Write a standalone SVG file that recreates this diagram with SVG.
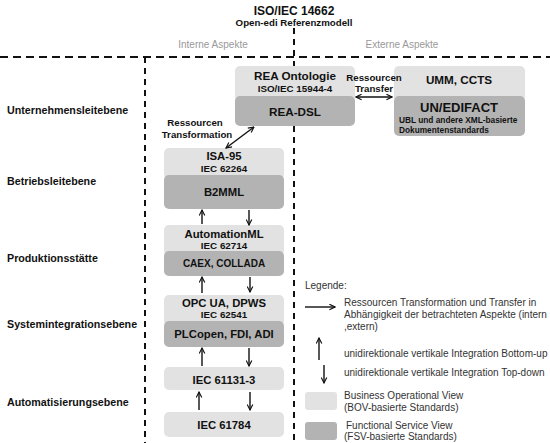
<svg xmlns="http://www.w3.org/2000/svg" width="550" height="443" viewBox="0 0 550 443">
<defs>
<marker id="ah" viewBox="0 0 10 10" refX="9" refY="5" markerWidth="7" markerHeight="7" markerUnits="userSpaceOnUse" orient="auto-start-reverse">
<path d="M1,1 L9,5 L1,9" fill="none" stroke="#111" stroke-width="1.6"/>
</marker>
</defs>
<style>
text{font-family:"Liberation Sans",Arial,sans-serif}
.b{font-weight:bold;fill:#111;text-anchor:middle}
.m{font-size:11.3px}
.s{font-size:9.8px}
.lv{font-weight:bold;fill:#111;font-size:10.7px}
.asp{font-size:10px;fill:#999;text-anchor:middle}
.lg{font-size:10px;fill:#333}
.light{fill:#e2e2e2}
.dark{fill:#b3b3b3}
.dh{stroke:#111;stroke-width:2;stroke-dasharray:8 5;fill:none}
.dv{stroke:#111;stroke-width:2;stroke-dasharray:6 5;fill:none}
.ar{stroke:#111;stroke-width:1.4;fill:none;marker-end:url(#ah)}
.da{stroke:#111;stroke-width:1.4;fill:none;marker-end:url(#ah);marker-start:url(#ah)}
</style>

<g id="header">
<text class="b" x="294" y="15" style="font-size:12px">ISO/IEC 14662</text>
<text class="b" x="294" y="25.5" style="font-size:9.7px">Open-edi Referenzmodell</text>
<text class="asp" x="213" y="48">Interne Aspekte</text>
<text class="asp" x="402" y="48">Externe Aspekte</text>
</g>

<g id="dividers">
<line class="dh" x1="0" y1="57" x2="550" y2="57"/>
<line class="dv" x1="145" y1="57" x2="145" y2="443"/>
<line class="dv" x1="294" y1="28" x2="294" y2="66"/>
<line class="dv" x1="294" y1="126" x2="294" y2="443"/>
</g>

<g id="levels">
<text class="lv" x="7" y="114">Unternehmensleitebene</text>
<text class="lv" x="7" y="185">Betriebsleitebene</text>
<text class="lv" x="7" y="262">Produktionsstätte</text>
<text class="lv" x="7" y="328">Systemintegrationsebene</text>
<text class="lv" x="7" y="406">Automatisierungsebene</text>
</g>

<g id="rea-ontologie">
<rect class="light" x="235" y="66" width="120" height="36" rx="5"/>
<text class="b" x="295" y="80" style="font-size:11.7px">REA Ontologie</text>
<text class="b s" x="295" y="91.5">ISO/IEC 15944-4</text>
</g>
<g id="rea-dsl">
<rect class="dark" x="235" y="96" width="120" height="30" rx="5"/>
<text class="b" x="295" y="116" style="font-size:11.7px">REA-DSL</text>
</g>
<g id="umm-ccts">
<rect class="light" x="394" y="66" width="131" height="36" rx="5"/>
<text class="b" x="459" y="84" style="font-size:11.7px">UMM, CCTS</text>
</g>
<g id="un-edifact">
<rect class="dark" x="394" y="96" width="131" height="40" rx="5"/>
<text class="b" x="459" y="112" style="font-size:13px">UN/EDIFACT</text>
<text class="b" x="399" y="122.5" style="font-size:8.3px;text-anchor:start">UBL und andere XML-basierte</text>
<text class="b" x="399" y="133" style="font-size:8.3px;text-anchor:start">Dokumentenstandards</text>
</g>

<g id="isa-95">
<rect class="light" x="164" y="148" width="120" height="32" rx="5"/>
<text class="b m" x="224" y="160">ISA-95</text>
<text class="b s" x="224" y="172">IEC 62264</text>
</g>
<g id="b2mml">
<rect class="dark" x="164" y="175" width="120" height="34" rx="5"/>
<text class="b m" x="224" y="196">B2MML</text>
</g>
<g id="automationml">
<rect class="light" x="164" y="225" width="120" height="31" rx="5"/>
<text class="b m" x="224" y="237.5">AutomationML</text>
<text class="b s" x="224" y="248.5">IEC 62714</text>
</g>
<g id="caex-collada">
<rect class="dark" x="164" y="251" width="120" height="25" rx="5"/>
<text class="b" x="224" y="267" style="font-size:10px">CAEX, COLLADA</text>
</g>
<g id="opc-ua">
<rect class="light" x="164" y="295" width="120" height="31" rx="5"/>
<text class="b m" x="224" y="307">OPC UA, DPWS</text>
<text class="b s" x="224" y="318">IEC 62541</text>
</g>
<g id="plcopen">
<rect class="dark" x="164" y="321" width="120" height="26" rx="5"/>
<text class="b m" x="224" y="338">PLCopen, FDI, ADI</text>
</g>
<g id="iec-61131">
<rect class="light" x="164" y="367" width="120" height="23" rx="5"/>
<text class="b m" x="224" y="384">IEC 61131-3</text>
</g>
<g id="iec-61784">
<rect class="light" x="164" y="412" width="120" height="25" rx="5"/>
<text class="b m" x="224" y="429">IEC 61784</text>
</g>

<g id="connector-labels">
<text class="b" x="374" y="80.5" style="font-size:9.7px">Ressourcen</text>
<text class="b" x="374" y="91.5" style="font-size:9.7px">Transfer</text>
<text class="b" x="195" y="125.5" style="font-size:9.7px">Ressourcen</text>
<text class="b" x="197" y="137.5" style="font-size:9.7px">Transformation</text>
</g>

<g id="connectors">
<line class="da" x1="356" y1="97" x2="392" y2="97"/>
<line class="da" x1="226" y1="148" x2="254" y2="127"/>
<line class="ar" x1="202" y1="224" x2="202" y2="210"/>
<line class="ar" x1="249" y1="210" x2="249" y2="225"/>
<line class="ar" x1="202" y1="293" x2="202" y2="277"/>
<line class="ar" x1="250" y1="277" x2="250" y2="292"/>
<line class="ar" x1="202" y1="366" x2="202" y2="348"/>
<line class="ar" x1="249" y1="348" x2="249" y2="366"/>
<line class="ar" x1="199" y1="410" x2="199" y2="392"/>
<line class="ar" x1="250" y1="392" x2="250" y2="410"/>
</g>

<g id="legend">
<text class="lg" x="305" y="288.5">Legende:</text>
<line class="ar" x1="305" y1="307" x2="335" y2="307"/>
<text class="lg" x="344" y="305.5">Ressourcen Transformation und Transfer in</text>
<text class="lg" x="344" y="317.5">Abhängigkeit der betrachteten Aspekte (intern</text>
<text class="lg" x="344" y="330">,extern)</text>
<line class="ar" x1="319" y1="360" x2="319" y2="338"/>
<text class="lg" x="344" y="356.5">unidirektionale vertikale Integration  Bottom-up</text>
<line class="ar" x1="324" y1="365" x2="324" y2="383"/>
<text class="lg" x="344" y="375.5">unidirektionale vertikale Integration Top-down</text>
<rect class="light" x="305" y="392" width="32" height="18" rx="3"/>
<text class="lg" x="344" y="398.5">Business Operational View</text>
<text class="lg" x="344" y="410.5">(BOV-basierte Standards)</text>
<rect class="dark" x="305" y="422" width="32" height="18" rx="3"/>
<text class="lg" x="346" y="428.5">Functional Service View</text>
<text class="lg" x="344" y="439.5">(FSV-basierte Standards)</text>
</g>
</svg>
